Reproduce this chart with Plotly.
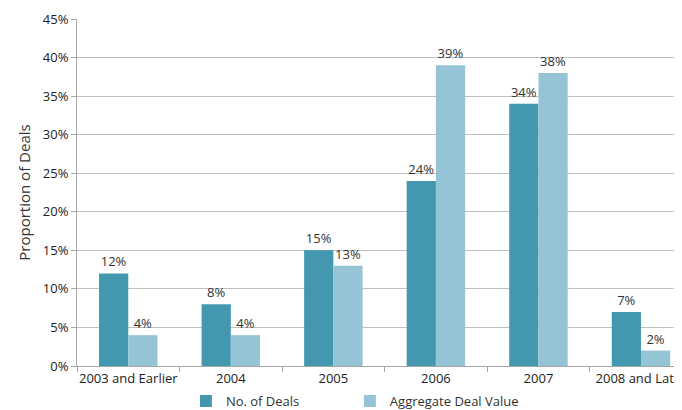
import plotly.graph_objects as go

categories = ["2003 and Earlier", "2004", "2005", "2006", "2007", "2008 and Later"]
no_of_deals = [12, 8, 15, 24, 34, 7]
aggregate_value = [4, 4, 13, 39, 38, 2]
y_ticks = [0, 5, 10, 15, 20, 25, 30, 35, 40, 45]
y_tick_labels = [f"{v}%" for v in y_ticks]

FONT = "Open Sans"
fig = go.Figure()
fig.add_trace(go.Bar(
    x=categories, y=no_of_deals, name="No. of Deals", legend="legend",
    marker=dict(color="#4398AF", line=dict(width=0)),
    text=[f"{v}%" for v in no_of_deals], textposition="outside",
    textfont=dict(color="#333333", size=13, family=FONT), cliponaxis=False,
))
fig.add_trace(go.Bar(
    x=categories, y=aggregate_value, name="Aggregate Deal Value", legend="legend2",
    marker=dict(color="#94C4D5", line=dict(width=0)),
    text=[f"{v}%" for v in aggregate_value], textposition="outside",
    textfont=dict(color="#333333", size=13, family=FONT), cliponaxis=False,
))
leg_common = dict(orientation="h", y=-0.058, xanchor="left", yanchor="top",
                  font=dict(size=13, family=FONT, color="#333333"),
                  itemwidth=30, bgcolor="rgba(0,0,0,0)")
# page body has an 8px default margin, so the figure is offset by 8px
fig.update_layout(
    width=674, height=402,
    margin=dict(l=69, r=0, t=11, b=44, autoexpand=False),
    paper_bgcolor="white", plot_bgcolor="white",
    barmode="group", bargap=0.43, bargroupgap=0,
    font=dict(family=FONT, size=13, color="#333333"),
    showlegend=True,
    legend=dict(x=0.18, **leg_common),
    legend2=dict(x=0.451, **leg_common),
    xaxis=dict(range=[-0.5, 5.4], showline=True, linecolor="#A6A6A6", linewidth=1,
               ticks="outside", tickson="boundaries", ticklen=5, tickcolor="#A6A6A6",
               tickangle=0, showgrid=False, tickfont=dict(size=13, color="#222222"),
               automargin=False),
    yaxis=dict(range=[0, 45], tickvals=y_ticks, ticktext=y_tick_labels,
               showline=True, linecolor="#A6A6A6", linewidth=1,
               ticks="outside", ticklen=5, tickcolor="#A6A6A6",
               showgrid=True, gridcolor="#BFBFBF", gridwidth=1, zeroline=False,
               tickfont=dict(size=13, color="#222222"), automargin=False,
               title=dict(text="Proportion of Deals", font=dict(size=15, color="#333333"), standoff=8)),
)
fig.write_html("out.html")
